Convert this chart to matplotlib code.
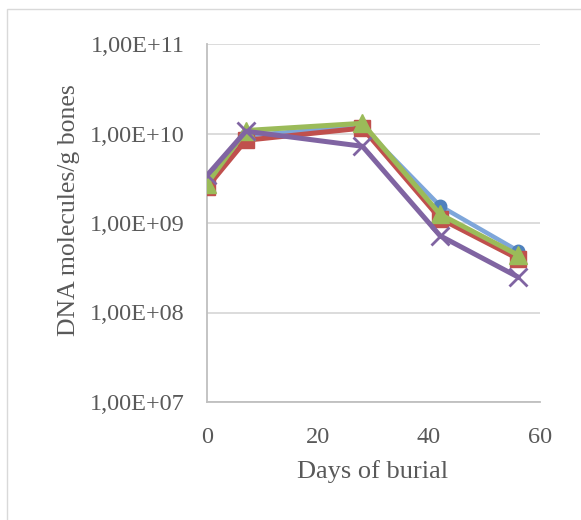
import matplotlib
matplotlib.use('Agg')
import matplotlib.pyplot as plt
from matplotlib.patches import Rectangle

# Days of burial and DNA molecules / g bone for the four series
days = [0, 7, 28, 42, 56]
series_blue = [2.7e9, 9.5e9, 1.2e10, 1.55e9, 4.9e8]
series_red = [2.5e9, 8.4e9, 1.15e10, 1.12e9, 4.0e8]
series_green = [2.75e9, 1.08e10, 1.3e10, 1.25e9, 4.4e8]
series_purple = [3.4e9, 1.06e10, 7.2e9, 7.2e8, 2.5e8]

y_ticks = [1e7, 1e8, 1e9, 1e10, 1e11]
y_tick_labels = ["1,00E+07", "1,00E+08", "1,00E+09", "1,00E+10", "1,00E+11"]
x_ticks = [0, 20, 40, 60]

text_color = '#595959'
grid_color = '#D9D9D9'
plt.rcParams['font.family'] = ['Liberation Serif', 'DejaVu Serif']

fig = plt.figure(figsize=(5.81, 5.2), dpi=100)
# outer chart border (Excel style)
fig.patches.append(Rectangle((7 / 581, -0.05), 1.1, 1 - 9 / 520 + 0.05,
                             transform=fig.transFigure, fill=False,
                             edgecolor='#D9D9D9', linewidth=1.0))

ax = fig.add_axes([207 / 581, 1 - 402 / 520, 333 / 581, 358 / 520])

ax.plot(days, series_blue, color='#7EA6DA', linewidth=3.2, marker='o',
        markersize=9, markerfacecolor='#4F81BD', markeredgecolor='#4F81BD', zorder=3)
ax.plot(days, series_red, color='#C0504D', linewidth=3.6, marker='s',
        markersize=12, markerfacecolor='#C0504D', markeredgecolor='#C0504D', zorder=4)
ax.plot(days, series_green, color='#9BBB59', linewidth=3.6, marker='^',
        markersize=13, markerfacecolor='#9BBB59', markeredgecolor='#9BBB59', zorder=5)
ax.plot(days, series_purple, color='#8064A2', linewidth=3.6, marker='x',
        markersize=13, markeredgewidth=2, zorder=6)

ax.set_yscale('log')
ax.set_ylim(1e7, 1e11)
ax.set_xlim(0, 60)
ax.set_yticks(y_ticks)
ax.set_yticklabels(y_tick_labels)
ax.minorticks_off()
ax.set_xticks(x_ticks)

ax.grid(True, axis='y', color=grid_color, linewidth=1.3)
ax.set_axisbelow(True)
for side in ['top', 'right']:
    ax.spines[side].set_visible(False)
for side in ['left', 'bottom']:
    ax.spines[side].set_color('#BFBFBF')
    ax.spines[side].set_linewidth(1.3)

ax.tick_params(axis='y', length=0, labelsize=17.5, labelcolor=text_color, pad=16)
ax.tick_params(axis='x', length=0, labelsize=17.5, labelcolor=text_color, pad=18)

fig.text(69 / 581, 1 - 210 / 520, 'DNA molecules/g bones', rotation=90,
         ha='center', va='center', fontsize=18.5, color=text_color)
fig.text(373 / 581, 1 - 472 / 520, 'Days of burial', ha='center', va='center',
         fontsize=19, color=text_color)

fig.savefig('out.png', dpi=100)
